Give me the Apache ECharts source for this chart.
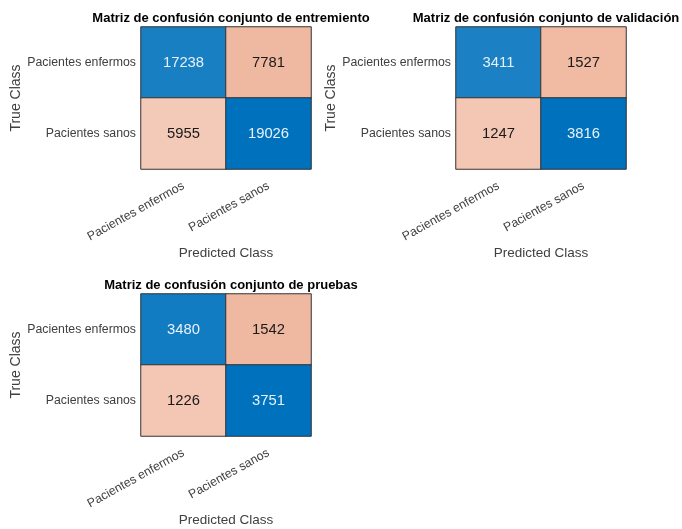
<!DOCTYPE html>
<html>
<head>
<meta charset="utf-8">
<script src="https://cdn.jsdelivr.net/npm/echarts@6/dist/echarts.min.js"></script>
<style>html,body{margin:0;padding:0;background:#fff}#c{width:682px;height:529px}</style>
</head>
<body>
<div id="c"></div>
<script>
const classes = ['Pacientes enfermos', 'Pacientes sanos'];
const chartTitles = [
  'Matriz de confusión conjunto de entremiento',
  'Matriz de confusión conjunto de validación',
  'Matriz de confusión conjunto de pruebas'
];
// rows = true class, cols = predicted class
const trainValues = [[17238, 7781], [5955, 19026]];
const validationValues = [[3411, 1527], [1247, 3816]];
const testValues = [[3480, 1542], [1226, 3751]];
const matrices = [trainValues, validationValues, testValues];

const FONT = 'Liberation Sans, Arial, Helvetica, sans-serif';
const grids = [
  {left: 141, top: 27, width: 170, height: 142},
  {left: 456, top: 27, width: 170, height: 142},
  {left: 141, top: 294, width: 170, height: 142}
];

function mix(rgb, a) {
  const c = rgb.map(v => Math.round(255 - a * (255 - v)));
  return 'rgb(' + c.join(',') + ')';
}
const diagRGB = [0, 114, 189];
const offRGB = [217, 83, 25];

const option = {
  animation: false,
  backgroundColor: '#fff',
  title: grids.map((g, i) => ({
    text: chartTitles[i],
    left: g.left + g.width / 2,
    top: g.top - 20,
    textAlign: 'center',
    textStyle: {fontFamily: FONT, fontSize: 13, fontWeight: 'bold', color: '#000'}
  })),
  grid: grids.map(g => Object.assign({}, g)),
  xAxis: grids.map((g, i) => ({
    type: 'category', gridIndex: i, data: classes,
    name: 'Predicted Class', nameLocation: 'middle', nameGap: 77,
    nameTextStyle: {fontFamily: FONT, fontSize: 13.5, color: '#404040'},
    axisLine: {show: false}, axisTick: {show: false}, splitLine: {show: false},
    axisLabel: {rotate: 29, fontFamily: FONT, fontSize: 12.3, color: '#404040', margin: 16}
  })),
  yAxis: grids.map((g, i) => ({
    type: 'category', gridIndex: i, data: classes, inverse: true,
    name: 'True Class', nameLocation: 'middle', nameGap: 117, nameRotate: 90,
    nameTextStyle: {fontFamily: FONT, fontSize: 14, color: '#404040'},
    axisLine: {show: false}, axisTick: {show: false}, splitLine: {show: false},
    axisLabel: {fontFamily: FONT, fontSize: 12.3, color: '#404040', margin: 5}
  })),
  series: matrices.map((m, i) => {
    const maxV = Math.max(...m.flat());
    const data = [];
    for (let r = 0; r < 2; r++) for (let c = 0; c < 2; c++) {
      const v = m[r][c];
      const diag = r === c;
      data.push({
        value: [c, r, v],
        itemStyle: {color: mix(diag ? diagRGB : offRGB, v / maxV)},
        label: {color: diag ? '#e8f1f9' : '#1a1a1a'}
      });
    }
    return {
      type: 'heatmap', xAxisIndex: i, yAxisIndex: i, data: data,
      itemStyle: {borderColor: '#333', borderWidth: 1},
      label: {show: true, fontFamily: FONT, fontSize: 14.8, formatter: p => p.value[2]},
      emphasis: {disabled: true}
    };
  })
};
const chart = echarts.init(document.getElementById('c'), null, {renderer: 'canvas'});
chart.setOption(option);
</script>
</body>
</html>
